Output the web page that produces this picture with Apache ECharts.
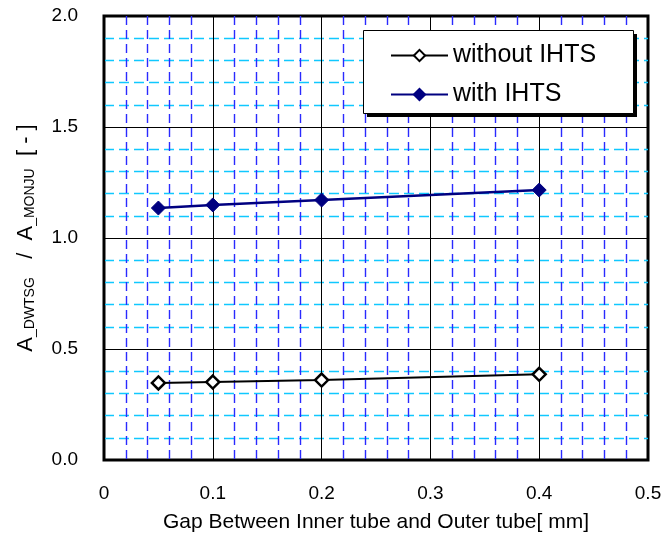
<!DOCTYPE html>
<html><head><meta charset="utf-8">
<script src="https://cdn.jsdelivr.net/npm/echarts@6/dist/echarts.min.js"></script>
<style>html,body{margin:0;padding:0;background:#fff}#c{width:666px;height:541px}</style>
</head><body><div id="c"></div>
<script>
const gapX = [0.05, 0.1, 0.2, 0.4];
const withoutIHTS = [0.347, 0.351, 0.360, 0.386];
const withIHTS = [1.135, 1.149, 1.171, 1.216];
const seriesNames = ['without IHTS', 'with IHTS'];
const FONT = '"Liberation Sans", Arial, sans-serif';

const chart = echarts.init(document.getElementById('c'), null, {renderer: 'canvas'});
chart.setOption({
  backgroundColor: '#fff',
  animation: false,
  grid: {left: 104, top: 16, right: 18, bottom: 81, show: true, borderColor: '#000', borderWidth: 3, backgroundColor: 'transparent'},
  graphic: [
    {type: 'rect', z: 5, silent: true, shape: {x: 367, y: 34, width: 270, height: 83}, style: {fill: '#000'}},
    {type: 'rect', z: 6, silent: true, shape: {x: 363.5, y: 30.5, width: 270, height: 83}, style: {fill: '#fff', stroke: '#000', lineWidth: 1}}
  ],
  legend: {
    orient: 'vertical', left: 363, top: 30, z: 10,
    padding: [13, 39, 6, 27], itemGap: 14,
    itemWidth: 57, itemHeight: 14,
    backgroundColor: 'transparent', borderWidth: 0,
    textStyle: {fontFamily: FONT, fontSize: 25, color: '#000'},
    data: seriesNames
  },
  xAxis: {
    type: 'value', min: 0, max: 0.5, interval: 0.1,
    name: 'Gap Between Inner tube and Outer tube[ mm]',
    nameLocation: 'middle', nameGap: 52,
    nameTextStyle: {fontFamily: FONT, fontSize: 21, color: '#000'},
    axisLine: {show: false},
    axisTick: {show: false},
    axisLabel: {margin: 24, fontFamily: FONT, fontSize: 19, color: '#000'},
    splitLine: {show: true, lineStyle: {color: '#000', width: 1}},
    minorTick: {show: false, splitNumber: 5},
    minorSplitLine: {show: true, lineStyle: {color: '#2a2aff', type: [9, 5], width: 1.4}}
  },
  yAxis: {
    type: 'value', min: 0, max: 2.0, interval: 0.5,
    name: '{m|A}{s|_DWTSG}{m|   /  A}{s|_MONJU}{m|  [ - ]}',
    nameLocation: 'middle', nameGap: 67, nameRotate: 90,
    nameTextStyle: {fontFamily: FONT, fontSize: 22, color: '#000',
      rich: {m: {fontFamily: FONT, fontSize: 22, color: '#000', verticalAlign: 'bottom'},
             s: {fontFamily: FONT, fontSize: 14, color: '#000', verticalAlign: 'bottom'}}},
    axisLine: {show: false},
    axisTick: {show: false},
    axisLabel: {margin: 26, fontFamily: FONT, fontSize: 19, color: '#000', formatter: v => v.toFixed(1)},
    splitLine: {show: true, lineStyle: {color: '#000', width: 1}},
    minorTick: {show: false, splitNumber: 5},
    minorSplitLine: {show: true, lineStyle: {color: '#10c8ff', type: [10, 5], width: 1.4}}
  },
  series: [
    {name: seriesNames[0], type: 'line', data: gapX.map((x, i) => [x, withoutIHTS[i]]),
     symbol: 'diamond', symbolSize: 13, showAllSymbol: true,
     lineStyle: {color: '#000', width: 2}, itemStyle: {color: '#fff', borderColor: '#000', borderWidth: 2.5}},
    {name: seriesNames[1], type: 'line', data: gapX.map((x, i) => [x, withIHTS[i]]),
     symbol: 'diamond', symbolSize: 14, showAllSymbol: true,
     lineStyle: {color: '#000080', width: 2.5}, itemStyle: {color: '#000080', borderColor: '#000080', borderWidth: 1}}
  ]
});
</script></body></html>
